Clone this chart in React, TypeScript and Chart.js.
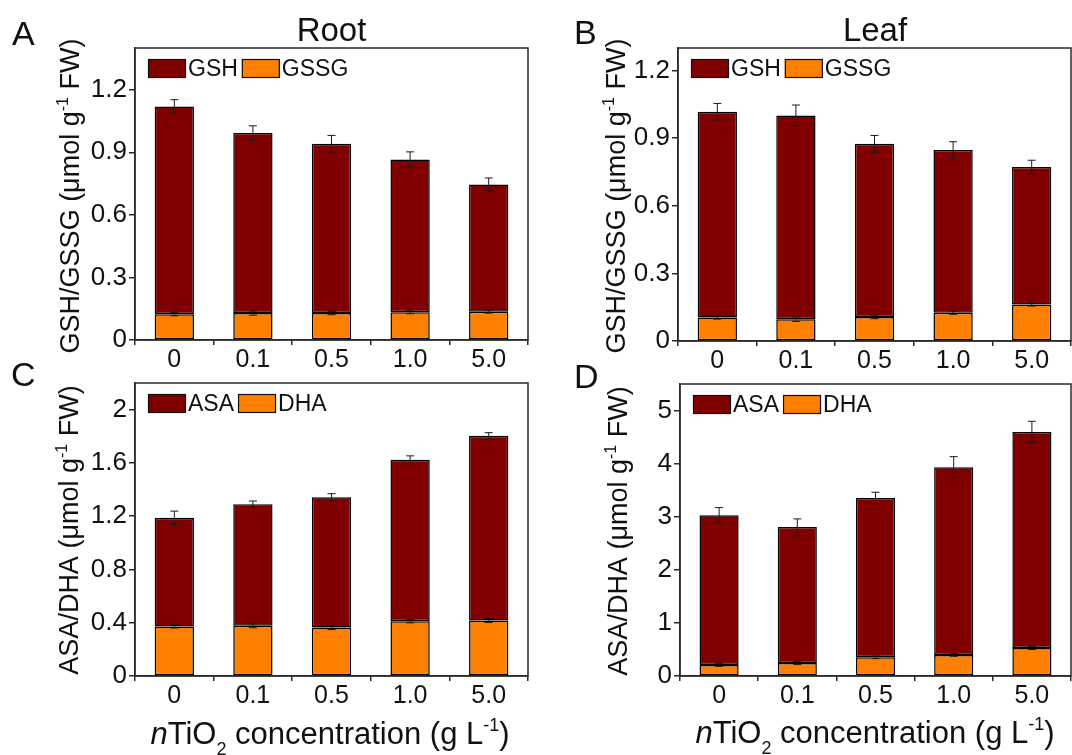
import React, { useEffect, useRef } from 'react';
import { Chart, registerables } from 'chart.js';

Chart.register(...registerables);

const W = 1072;
const H = 755;
const FAMILY = '"Liberation Sans", Arial, Helvetica, sans-serif';
const MAROON = '#800000';
const ORANGE = '#FF8000';
const FRAME = '#2a2a2a';
const TEXT = '#111111';

const categories = ['0', '0.1', '0.5', '1.0', '5.0'];

// Panel A – Root GSH / GSSG
const rootGSSG = [0.124, 0.129, 0.129, 0.133, 0.136];
const rootGSSGErr = [0.008, 0.01, 0.008, 0.007, 0.007];
const rootGSH = [0.996, 0.863, 0.812, 0.733, 0.61];
const rootGSHErr = [0.032, 0.035, 0.04, 0.036, 0.031];

// Panel B – Leaf GSH / GSSG
const leafGSSG = [0.104, 0.097, 0.107, 0.125, 0.162];
const leafGSSGErr = [0.007, 0.01, 0.008, 0.007, 0.007];
const leafGSH = [0.913, 0.904, 0.768, 0.722, 0.61];
const leafGSHErr = [0.037, 0.046, 0.037, 0.037, 0.03];

// Panel C – Root ASA / DHA
const rootDHA = [0.372, 0.377, 0.364, 0.412, 0.417];
const rootDHAErr = [0.012, 0.015, 0.015, 0.013, 0.015];
const rootASA = [0.816, 0.912, 0.978, 1.211, 1.387];
const rootASAErr = [0.05, 0.025, 0.027, 0.03, 0.023];

// Panel D – Leaf ASA / DHA
const leafDHA = [0.207, 0.245, 0.352, 0.396, 0.528];
const leafDHAErr = [0.025, 0.03, 0.025, 0.025, 0.03];
const leafASA = [2.821, 2.563, 3.002, 3.536, 4.07];
const leafASAErr = [0.144, 0.151, 0.107, 0.2, 0.2];

// Tick labels
const gsTickLabels = ['0', '0.3', '0.6', '0.9', '1.2'];
const rootAsaTickLabels = ['0', '0.4', '0.8', '1.2', '1.6', '2'];
const leafAsaTickLabels = ['0', '1', '2', '3', '4', '5'];

type Seg = { t: string; size: number; italic?: boolean; dy?: number };

const yTitleGS: Seg[] = [
  { t: 'GSH/GSSG (μmol g', size: 27 },
  { t: '-1', size: 16, dy: -11 },
  { t: ' FW)', size: 27 },
];
const yTitleAD: Seg[] = [
  { t: 'ASA/DHA (μmol g', size: 27 },
  { t: '-1', size: 16, dy: -11 },
  { t: ' FW)', size: 27 },
];
const xTitle: Seg[] = [
  { t: 'n', size: 31, italic: true },
  { t: 'TiO', size: 31 },
  { t: '2', size: 18, dy: 11 },
  { t: ' concentration (g L', size: 31 },
  { t: '-1', size: 18, dy: -13 },
  { t: ')', size: 31 },
];

const panels = [
  {
    plot: { left: 135, top: 48, right: 528, bottom: 340 },
    max: 1.4,
    ticks: gsTickLabels,
    low: rootGSSG, lowErr: rootGSSGErr, lowName: 'GSSG',
    high: rootGSH, highErr: rootGSHErr, highName: 'GSH',
    letter: { t: 'A', x: 12, y: 45 },
    title: { t: 'Root', x: 331.5, y: 41 },
    yTitle: { segs: yTitleGS, x: 79, y: 196 },
    xTitle: null as any,
  },
  {
    plot: { left: 678, top: 48, right: 1071, bottom: 341 },
    max: 1.3,
    ticks: gsTickLabels,
    low: leafGSSG, lowErr: leafGSSGErr, lowName: 'GSSG',
    high: leafGSH, highErr: leafGSHErr, highName: 'GSH',
    letter: { t: 'B', x: 574, y: 44 },
    title: { t: 'Leaf', x: 875, y: 41 },
    yTitle: { segs: yTitleGS, x: 625, y: 196 },
    xTitle: null as any,
  },
  {
    plot: { left: 135, top: 383, right: 528, bottom: 676 },
    max: 2.2,
    ticks: rootAsaTickLabels,
    low: rootDHA, lowErr: rootDHAErr, lowName: 'DHA',
    high: rootASA, highErr: rootASAErr, highName: 'ASA',
    letter: { t: 'C', x: 11, y: 386 },
    title: null as any,
    yTitle: { segs: yTitleAD, x: 78, y: 530 },
    xTitle: { segs: xTitle, x: 330, y: 744 },
  },
  {
    plot: { left: 680, top: 384, right: 1071, bottom: 676 },
    max: 5.5,
    ticks: leafAsaTickLabels,
    low: leafDHA, lowErr: leafDHAErr, lowName: 'DHA',
    high: leafASA, highErr: leafASAErr, highName: 'ASA',
    letter: { t: 'D', x: 574, y: 388 },
    title: null as any,
    yTitle: { segs: yTitleAD, x: 627, y: 531 },
    xTitle: { segs: xTitle, x: 875, y: 743 },
  },
];

function segFont(s: Seg) {
  return `${s.italic ? 'italic ' : ''}${s.size}px ${FAMILY}`;
}

function drawRich(ctx: CanvasRenderingContext2D, segs: Seg[], x: number, y: number) {
  ctx.textAlign = 'left';
  ctx.textBaseline = 'alphabetic';
  const widths = segs.map((s) => {
    ctx.font = segFont(s);
    return ctx.measureText(s.t).width;
  });
  const total = widths.reduce((a, b) => a + b, 0);
  let cx = x - total / 2;
  segs.forEach((s, i) => {
    ctx.font = segFont(s);
    ctx.fillText(s.t, cx, y + (s.dy || 0));
    cx += widths[i];
  });
}

function makePlugins(p: any) {
  const framePlugin = {
    id: 'frame',
    afterDatasetsDraw(chart: any) {
      const { ctx, chartArea: a } = chart;
      ctx.save();
      ctx.strokeStyle = FRAME;
      ctx.lineWidth = 1.5;
      ctx.strokeRect(a.left, a.top, a.right - a.left, a.bottom - a.top);
      ctx.restore();
    },
  };
  const errorPlugin = {
    id: 'errbars',
    afterDatasetsDraw(chart: any) {
      const { ctx } = chart;
      const yScale = chart.scales.y;
      ctx.save();
      ctx.strokeStyle = '#1a1a1a';
      ctx.lineWidth = 1;
      chart.data.datasets.forEach((ds: any, di: number) => {
        const meta = chart.getDatasetMeta(di);
        meta.data.forEach((el: any, i: number) => {
          const err = ds.errors[i];
          const topVal = yScale.getValueForPixel(el.y);
          const yHi = yScale.getPixelForValue(topVal + err);
          const yLo = yScale.getPixelForValue(topVal - err);
          const x = el.x;
          const cap = 4;
          ctx.beginPath();
          ctx.moveTo(x, yHi);
          ctx.lineTo(x, yLo);
          ctx.moveTo(x - cap, yHi);
          ctx.lineTo(x + cap, yHi);
          ctx.moveTo(x - cap, yLo);
          ctx.lineTo(x + cap, yLo);
          ctx.stroke();
        });
      });
      ctx.restore();
    },
  };
  const legendPlugin = {
    id: 'insideLegend',
    afterDraw(chart: any) {
      const { ctx, chartArea: a } = chart;
      const items = [
        { name: p.highName, color: MAROON },
        { name: p.lowName, color: ORANGE },
      ];
      let x = a.left + 13;
      const y = a.top + 11;
      const bw = 38;
      const bh = 19;
      ctx.save();
      ctx.font = `23px ${FAMILY}`;
      ctx.textBaseline = 'middle';
      ctx.textAlign = 'left';
      items.forEach((it) => {
        ctx.fillStyle = it.color;
        ctx.fillRect(x, y, bw, bh);
        ctx.strokeStyle = '#111';
        ctx.lineWidth = 1.2;
        ctx.strokeRect(x + 0.5, y + 0.5, bw - 1, bh - 1);
        x += bw + 2;
        ctx.fillStyle = TEXT;
        ctx.fillText(it.name, x, y + bh / 2 + 1);
        x += ctx.measureText(it.name).width + 4;
      });
      ctx.restore();
    },
  };
  const textPlugin = {
    id: 'texts',
    afterDraw(chart: any) {
      const { ctx } = chart;
      ctx.save();
      ctx.fillStyle = TEXT;
      ctx.textBaseline = 'alphabetic';
      ctx.font = `34px ${FAMILY}`;
      ctx.textAlign = 'left';
      ctx.fillText(p.letter.t, p.letter.x, p.letter.y);
      if (p.title) {
        ctx.textAlign = 'center';
        ctx.font = `33px ${FAMILY}`;
        ctx.fillText(p.title.t, p.title.x, p.title.y);
      }
      ctx.save();
      ctx.translate(p.yTitle.x, p.yTitle.y);
      ctx.rotate(-Math.PI / 2);
      drawRich(ctx, p.yTitle.segs, 0, 0);
      ctx.restore();
      if (p.xTitle) {
        drawRich(ctx, p.xTitle.segs, p.xTitle.x, p.xTitle.y);
      }
      ctx.restore();
    },
  };
  return [framePlugin, errorPlugin, legendPlugin, textPlugin];
}

function Panel({ p }: { p: any }) {
  const ref = useRef<HTMLCanvasElement | null>(null);
  useEffect(() => {
    if (!ref.current) return;
    const tickValues = p.ticks.map((t: string) => parseFloat(t));
    const chart = new Chart(ref.current, {
      type: 'bar',
      data: {
        labels: categories,
        datasets: [
          {
            label: p.lowName,
            data: p.low,
            errors: p.lowErr,
            backgroundColor: ORANGE,
            borderColor: '#000',
            borderWidth: 1.5,
            borderSkipped: false,
            barPercentage: 0.5,
            categoryPercentage: 1,
          } as any,
          {
            label: p.highName,
            data: p.high,
            errors: p.highErr,
            backgroundColor: MAROON,
            borderColor: '#000',
            borderWidth: 1.5,
            borderSkipped: false,
            barPercentage: 0.5,
            categoryPercentage: 1,
          } as any,
        ],
      },
      options: {
        animation: false,
        responsive: false,
        maintainAspectRatio: false,
        events: [],
        layout: {
          padding: { left: 0, top: p.plot.top, right: W - p.plot.right, bottom: 0 },
        },
        plugins: {
          legend: { display: false },
          tooltip: { enabled: false },
          title: { display: false },
        },
        scales: {
          x: {
            stacked: true,
            grid: {
              offset: true,
              drawOnChartArea: false,
              drawTicks: true,
              tickLength: 5,
              color: FRAME,
              lineWidth: 1.5,
            },
            border: { display: true, color: FRAME, width: 1.5 },
            ticks: {
              font: { family: FAMILY, size: 25 },
              color: TEXT,
              padding: 0,
              maxRotation: 0,
              autoSkip: false,
            },
            afterFit: (s: any) => {
              s.height = H - p.plot.bottom;
            },
          },
          y: {
            stacked: true,
            min: 0,
            max: p.max,
            grid: {
              drawOnChartArea: false,
              drawTicks: true,
              tickLength: 6,
              color: FRAME,
              lineWidth: 1.5,
            },
            border: { display: true, color: FRAME, width: 1.5 },
            ticks: {
              font: { family: FAMILY, size: 26 },
              color: TEXT,
              padding: 2,
              callback: (_v: any, i: number) => p.ticks[i],
            },
            afterBuildTicks: (s: any) => {
              s.ticks = tickValues.map((v: number) => ({ value: v }));
            },
            afterFit: (s: any) => {
              s.width = p.plot.left;
            },
          },
        },
      } as any,
      plugins: makePlugins(p) as any,
    });
    return () => chart.destroy();
  }, [p]);
  return (
    <canvas
      ref={ref}
      width={W}
      height={H}
      style={{ position: 'absolute', left: 0, top: 0, width: W, height: H }}
    />
  );
}

export default function App() {
  return (
    <div
      style={{
        position: 'fixed',
        left: 0,
        top: 0,
        width: W,
        height: H,
        background: '#ffffff',
        overflow: 'hidden',
      }}
    >
      {panels.map((p, i) => (
        <Panel key={i} p={p} />
      ))}
    </div>
  );
}
